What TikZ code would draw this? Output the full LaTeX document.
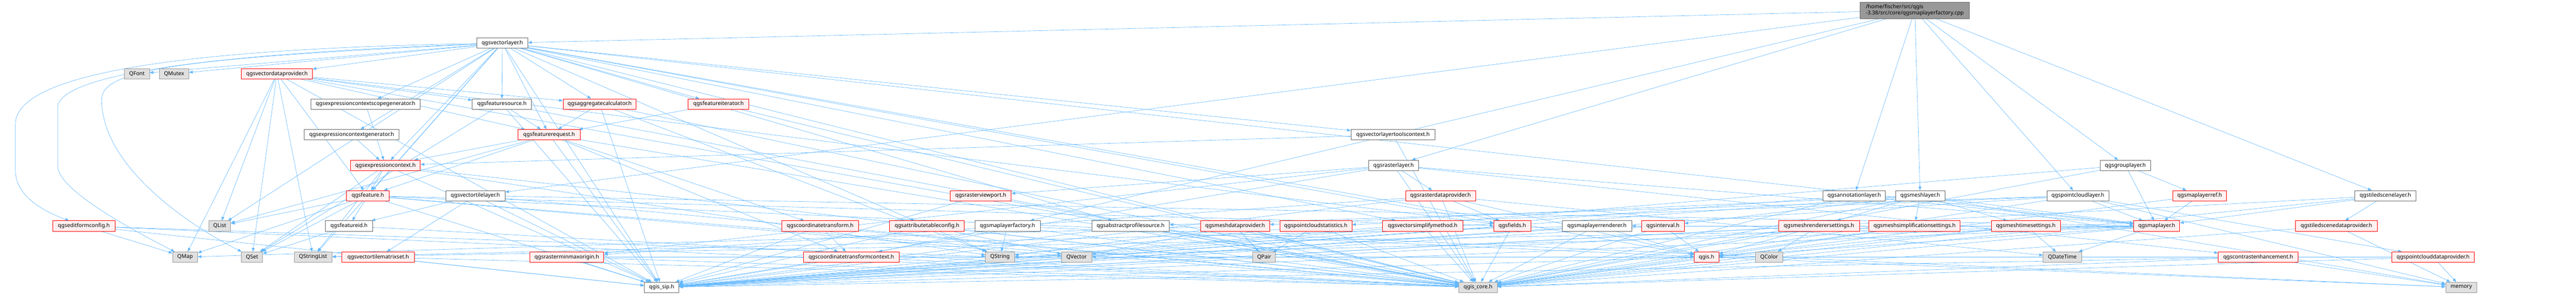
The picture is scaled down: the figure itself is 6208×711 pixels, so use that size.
\documentclass[tikz,border=0pt]{standalone}
\usepackage{fontspec}
\setmainfont{Noto Sans}
\usetikzlibrary{arrows}
\usetikzlibrary{arrows.meta}
\definecolor{edgeblue}{rgb}{0.38823529411764707,0.7215686274509804,1.}
\definecolor{redline}{rgb}{1.,0.,0.}
\definecolor{redfill}{rgb}{1.,0.9411764705882353,0.9411764705882353}
\definecolor{greyline}{rgb}{0.4,0.4,0.4}
\definecolor{leafline}{rgb}{0.6,0.6,0.6}
\definecolor{leaffill}{rgb}{0.8784313725490196,0.8784313725490196,0.8784313725490196}
\definecolor{rootfill}{rgb}{0.6,0.6,0.6}
\pgfdeclarelayer{edges}
\pgfsetlayers{edges,main}
\tikzset{
  filebox/.style={draw=greyline,fill=white,line width=1pt,inner sep=0pt,minimum height=25,
    font=\fontsize{13}{15}\selectfont},
  redbox/.style={filebox,draw=redline,fill=redfill},
  sysbox/.style={filebox,draw=leafline,fill=leaffill},
  rootbox/.style={filebox,fill=rootfill,minimum height=40,align=left},
  edge/.style={->,draw=edgeblue,line width=0.8pt}
}
\begin{document}
\begin{tikzpicture}[line cap=round,line join=round,>={Triangle[length=9pt,width=7pt]},x=1pt,y=-1pt]
\useasboundingbox (0,0) rectangle (6208,711);
% rank 0 and 1
\node[rootbox,minimum width=263] (cpp) at (4614.5,25) {/home/fischer/src/qgis\\-3.38/src/core/qgsmaplayerfactory.cpp};
\node[filebox,minimum width=123] (vl) at (1210.5,104) {qgsvectorlayer.h};
% rank 2
\node[sysbox,minimum width=60] (qfont) at (330,178) {QFont};
\node[sysbox,minimum width=71] (qmutex) at (419.5,178) {QMutex};
\node[redbox,minimum width=171] (vdp) at (667.5,178) {qgsvectordataprovider.h};
% rank 3
\node[filebox,minimum width=264] (ecsg) at (881,251) {qgsexpressioncontextscopegenerator.h};
\node[filebox,minimum width=143] (fsrc) at (1209.5,251) {qgsfeaturesource.h};
\node[redbox,minimum width=176] (aggc) at (1445,251) {qgsaggregatecalculator.h};
\node[redbox,minimum width=147] (fit) at (1731.5,251) {qgsfeatureiterator.h};
% rank 4
\node[filebox,minimum width=229] (ecg) at (847.5,325) {qgsexpressioncontextgenerator.h};
\node[redbox,minimum width=151] (freq) at (1323.5,325) {qgsfeaturerequest.h};
\node[filebox,minimum width=202] (vltc) at (3357,325) {qgsvectorlayertoolscontext.h};
% rank 5
\node[redbox,minimum width=168] (ectx) at (929,399) {qgsexpressioncontext.h};
\node[filebox,minimum width=121] (rl) at (3358.5,399) {qgsrasterlayer.h};
\node[filebox,minimum width=122] (gl) at (5122,399) {qgsgrouplayer.h};
% rank 6
\node[redbox,minimum width=103] (feat) at (886.5,472) {qgsfeature.h};
\node[filebox,minimum width=143] (vtl) at (1145.5,472) {qgsvectortilelayer.h};
\node[redbox,minimum width=147] (rvp) at (2363.5,472) {qgsrasterviewport.h};
\node[redbox,minimum width=169] (rdp) at (3471.5,472) {qgsrasterdataprovider.h};
\node[filebox,minimum width=151] (annl) at (4468.5,472) {qgsannotationlayer.h};
\node[filebox,minimum width=119] (ml) at (4627.5,472) {qgsmeshlayer.h};
\node[filebox,minimum width=149] (pcl) at (5007.5,472) {qgspointcloudlayer.h};
\node[redbox,minimum width=130] (mlref) at (5301,472) {qgsmaplayerref.h};
\node[filebox,minimum width=147] (tsl) at (5748.5,472) {qgstiledscenelayer.h};
% rank 7
\node[redbox,minimum width=150] (efc) at (202,545) {qgseditformconfig.h};
\node[sysbox,minimum width=53] (qlist) at (529.5,545) {QList};
\node[filebox,minimum width=114] (fid) at (841,545) {qgsfeatureid.h};
\node[redbox,minimum width=185] (ct) at (1976.5,545) {qgscoordinatetransform.h};
\node[redbox,minimum width=180] (atc) at (2234,545) {qgsattributetableconfig.h};
\node[filebox,minimum width=158] (mlf) at (2428,545) {qgsmaplayerfactory.h};
\node[filebox,minimum width=187] (aps) at (2724.5,545) {qgsabstractprofilesource.h};
\node[redbox,minimum width=167] (mdp) at (2976.5,545) {qgsmeshdataprovider.h};
\node[redbox,minimum width=174] (pcs) at (3171,545) {qgspointcloudstatistics.h};
\node[redbox,minimum width=193] (vsm) at (3428.5,545) {qgsvectorsimplifymethod.h};
\node[redbox,minimum width=89] (flds) at (3644.5,545) {qgsfields.h};
\node[filebox,minimum width=167] (mlr) at (3848.5,545) {qgsmaplayerrenderer.h};
\node[redbox,minimum width=103] (intv) at (4007.5,545) {qgsinterval.h};
\node[redbox,minimum width=195] (mrs) at (4383.5,545) {qgsmeshrenderersettings.h};
\node[redbox,minimum width=220] (mss) at (4614,545) {qgsmeshsimplificationsettings.h};
\node[redbox,minimum width=166] (mts) at (4882,545) {qgsmeshtimesettings.h};
\node[redbox,minimum width=111] (mlyr) at (5197.5,545) {qgsmaplayer.h};
\node[redbox,minimum width=197] (tsdp) at (5630.5,545) {qgstiledscenedataprovider.h};
% rank 8
\node[sysbox,minimum width=60] (qmap) at (446,620) {QMap};
\node[sysbox,minimum width=51] (qset) at (607.5,620) {QSet};
\node[sysbox,minimum width=91] (qsl) at (754.5,620) {QStringList};
\node[redbox,minimum width=175] (vtms) at (911.5,620) {qgsvectortilematrixset.h};
\node[redbox,minimum width=178] (rmmo) at (1366,620) {qgsrasterminmaxorigin.h};
\node[redbox,minimum width=231] (ctc) at (2051.5,620) {qgscoordinatetransformcontext.h};
\node[sysbox,minimum width=70] (qstr) at (2410,620) {QString};
\node[sysbox,minimum width=73] (qvec) at (2594.5,620) {QVector};
\node[sysbox,minimum width=55] (qpair) at (3046.5,620) {QPair};
\node[redbox,minimum width=59] (qgis) at (4112.5,620) {qgis.h};
\node[sysbox,minimum width=65] (qcolor) at (4263.5,620) {QColor};
\node[sysbox,minimum width=92] (qdt) at (4970,620) {QDateTime};
\node[redbox,minimum width=192] (ce) at (5442,620) {qgscontrastenhancement.h};
\node[redbox,minimum width=199] (pcdp) at (5863.5,620) {qgspointclouddataprovider.h};
% rank 9
\node[filebox,minimum width=83] (sip) at (1594.5,693) {qgis\_sip.h};
\node[sysbox,minimum width=92] (core) at (3562,693) {qgis\_core.h};
\node[sysbox,minimum width=75] (mem) at (5931.5,693) {memory};
\begin{pgfonlayer}{edges}
\foreach \t in {vl,rl,ml,pcl,vtl,annl,gl,tsl,mlf} \draw[edge] (cpp) -- (\t);
\foreach \t in {vdp,qfont,qmutex,ecsg,fsrc,aggc,fit,ecg,freq,ectx,feat,qlist,qsl,atc,aps,vsm,flds,mlyr,vltc,qgis,core,sip}
  \draw[edge] (vl) -- (\t);
% the three that run round the left side
\draw[edge] (vl) .. controls (300,120) and (37,200) .. (37,300) -- (37,410) .. controls (37,480) and (120,515) .. (efc);
\draw[edge] (vl) .. controls (500,130) and (139,180) .. (139,260) -- (139,400) .. controls (139,460) and (330,560) .. (qmap);
\draw[edge] (vl) .. controls (420,140) and (245,170) .. (245,240) .. controls (245,400) and (450,540) .. (qset);
\foreach \t in {fsrc,aggc,feat,freq,flds,qlist,qset,qmap,qsl,core,sip} \draw[edge] (vdp) -- (\t);
\draw[edge] (ecsg) -- (ectx);
\draw[edge] (ecg) -- (ectx);
\foreach \t in {freq,core,sip,qset} \draw[edge] (fsrc) -- (\t);
\foreach \t in {freq,core,sip,qstr} \draw[edge] (aggc) -- (\t);
\foreach \t in {freq,core} \draw[edge] (fit) -- (\t);
\foreach \t in {ectx,feat,ct,ctc,qlist,core,sip} \draw[edge] (freq) -- (\t);
\foreach \t in {ectx,core} \draw[edge] (vltc) -- (\t);
\foreach \t in {feat,qsl,qset,qstr,core,sip} \draw[edge] (ectx) -- (\t);
\foreach \t in {rdp,mlyr,rvp,rmmo,ce,core,sip} \draw[edge] (rl) -- (\t);
\foreach \t in {mlyr,mlref,core,sip} \draw[edge] (gl) -- (\t);
\foreach \t in {fid,qlist,qmap,qset,qvec,flds,core,sip,mem} \draw[edge] (feat) -- (\t);
\foreach \t in {vtms,fid,mlyr,core,sip} \draw[edge] (vtl) -- (\t);
\foreach \t in {core,sip} \draw[edge] (rvp) -- (\t);
\foreach \t in {flds,rmmo,qdt,qgis,core,sip} \draw[edge] (rdp) -- (\t);
\foreach \t in {mlyr,core,sip} \draw[edge] (annl) -- (\t);
\foreach \t in {mrs,mss,mts,mdp,intv,mlyr,core,sip,mem} \draw[edge] (ml) -- (\t);
\foreach \t in {mlyr,pcdp,pcs,aps,core,sip,mem} \draw[edge] (pcl) -- (\t);
\foreach \t in {mlyr,core} \draw[edge] (mlref) -- (\t);
\foreach \t in {tsdp,mlyr,core,sip} \draw[edge] (tsl) -- (\t);
\foreach \t in {qmap,core,sip,qstr} \draw[edge] (efc) -- (\t);
\foreach \t in {qset,core} \draw[edge] (fid) -- (\t);
\foreach \t in {ctc,core,sip} \draw[edge] (ct) -- (\t);
\foreach \t in {qstr,qvec,core,sip} \draw[edge] (atc) -- (\t);
\foreach \t in {qstr,ctc,core,qgis} \draw[edge] (mlf) -- (\t);
\foreach \t in {core,sip} \draw[edge] (aps) -- (\t);
\foreach \t in {qpair,qvec,qstr,qmap,core} \draw[edge] (mdp) -- (\t);
\foreach \t in {qpair,core,sip} \draw[edge] (pcs) -- (\t);
\foreach \t in {core,sip} \draw[edge] (vsm) -- (\t);
\foreach \t in {core,sip} \draw[edge] (flds) -- (\t);
\foreach \t in {qsl,qgis,core,sip} \draw[edge] (mlr) -- (\t);
\foreach \t in {qgis,core,sip} \draw[edge] (intv) -- (\t);
\foreach \t in {qcolor,qgis,core,sip} \draw[edge] (mrs) -- (\t);
\foreach \t in {qgis,core,sip} \draw[edge] (mss) -- (\t);
\foreach \t in {qdt,qgis,core} \draw[edge] (mts) -- (\t);
\foreach \t in {qdt,qstr,qsl,qgis,mlr,core,sip} \draw[edge] (mlyr) -- (\t);
\foreach \t in {core,mem} \draw[edge] (tsdp) -- (\t);
\foreach \t in {core,sip,mem,qstr} \draw[edge] (qgis) -- (\t);
\foreach \t in {qgis,core,sip,mem} \draw[edge] (ce) -- (\t);
\foreach \t in {mem,core,qvec} \draw[edge] (pcdp) -- (\t);
\foreach \t in {core,sip} \draw[edge] (vtms) -- (\t);
\foreach \t in {core,sip,qgis} \draw[edge] (rmmo) -- (\t);
\foreach \t in {core,sip} \draw[edge] (ctc) -- (\t);
\end{pgfonlayer}
\end{tikzpicture}
\end{document}
